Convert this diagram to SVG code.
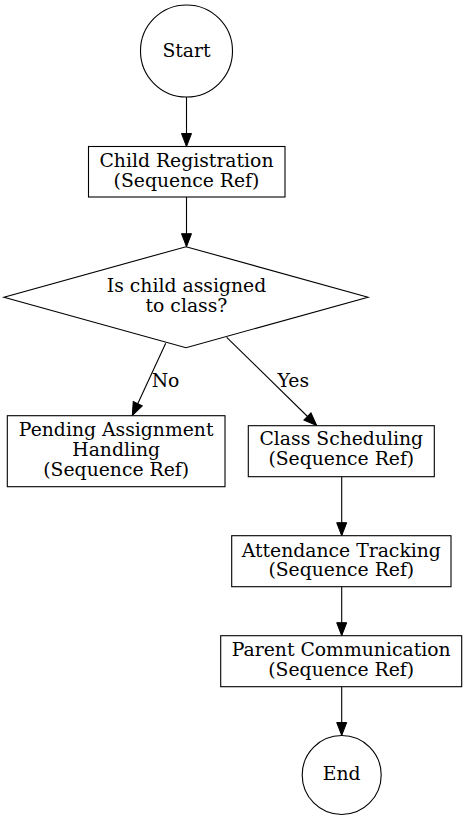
<svg xmlns="http://www.w3.org/2000/svg" width="467" height="819" viewBox="0 0 467 819">
<style>
.n{fill:#fff;stroke:#000;stroke-width:1.1}
text{font-family:"DejaVu Serif","Liberation Serif",serif;font-size:18.8px;fill:#000;text-anchor:middle}
.l{text-anchor:start}
.e{stroke:#000;stroke-width:1.1;fill:none;marker-end:url(#ah)}
</style>
<defs>
<marker id="ah" markerUnits="userSpaceOnUse" markerWidth="14" markerHeight="11" refX="13" refY="5" orient="auto" overflow="visible">
<path d="M0,0 L13,5 L0,10 z" fill="#000" stroke="#000" stroke-width="1"/>
</marker>
</defs>
<rect width="467" height="819" fill="#fff"/>
<g id="edges">
<path class="e" d="M186.5,97 L186.5,146.5"/>
<path class="e" d="M186.5,197 L186.5,246.7"/>
<path class="e" d="M165.7,343.3 L132.3,415.5"/>
<path class="e" d="M226.7,337.3 L316.7,425.5"/>
<path class="e" d="M341.7,476.7 L341.7,535.7"/>
<path class="e" d="M341.7,586.7 L341.7,635.7"/>
<path class="e" d="M341.7,686.7 L341.7,735.5"/>
<text class="l" x="151.7" y="386.7">No</text>
<text class="l" x="277.5" y="386.7">Yes</text>
</g>
<g id="start">
<circle class="n" cx="186.5" cy="51" r="46"/>
<text x="186.5" y="56.7">Start</text>
</g>
<g id="registration">
<rect class="n" x="88.5" y="146.5" width="196.5" height="50.5"/>
<text x="186.5" y="166.7">Child Registration</text>
<text x="186.5" y="186.7">(Sequence Ref)</text>
</g>
<g id="decision">
<polygon class="n" points="186,246.7 368,297.2 186,347.7 4,297.2"/>
<text x="186.5" y="291.7">Is child assigned</text>
<text x="186.5" y="311.7">to class?</text>
</g>
<g id="pending">
<rect class="n" x="7.3" y="415.7" width="217.7" height="71"/>
<text x="116.2" y="436">Pending Assignment</text>
<text x="116.2" y="456">Handling</text>
<text x="116.2" y="476">(Sequence Ref)</text>
</g>
<g id="scheduling">
<rect class="n" x="248.3" y="425.7" width="186" height="51"/>
<text x="341.3" y="445">Class Scheduling</text>
<text x="341.3" y="465">(Sequence Ref)</text>
</g>
<g id="attendance">
<rect class="n" x="231.7" y="535.7" width="219.3" height="51"/>
<text x="341.3" y="556.7">Attendance Tracking</text>
<text x="341.3" y="576.3">(Sequence Ref)</text>
</g>
<g id="parent">
<rect class="n" x="220.7" y="635.7" width="241" height="51"/>
<text x="341.2" y="656">Parent Communication</text>
<text x="341.2" y="676">(Sequence Ref)</text>
</g>
<g id="end">
<circle class="n" cx="341.7" cy="775" r="39.5"/>
<text x="341.7" y="780">End</text>
</g>
</svg>
